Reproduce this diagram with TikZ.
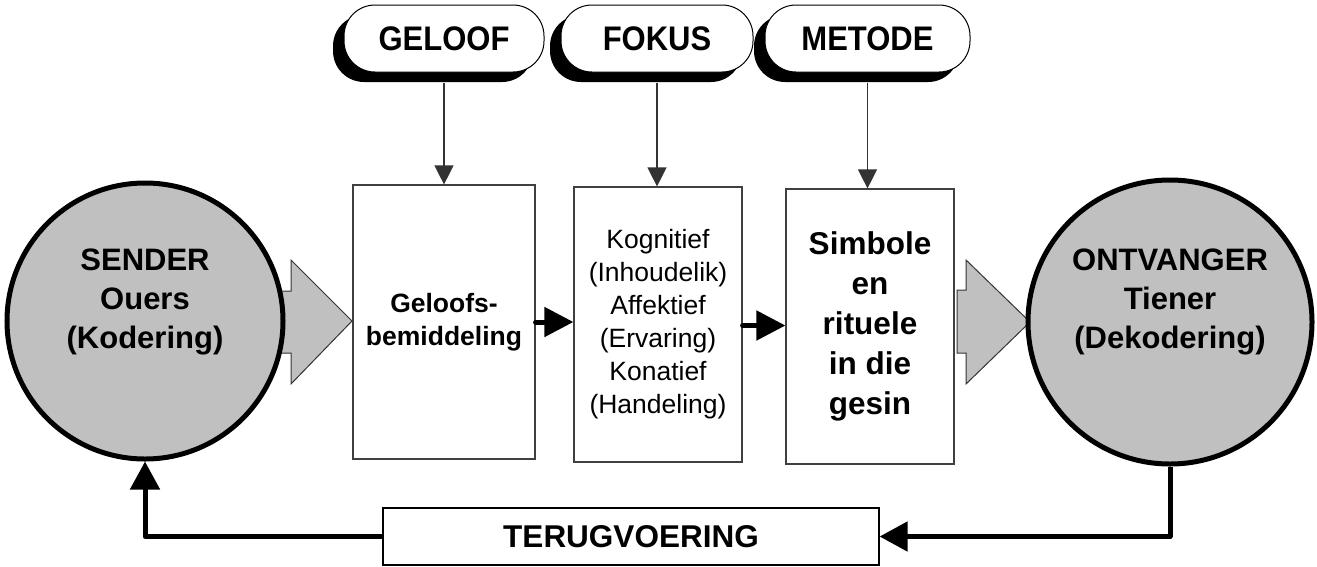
\documentclass[tikz,border=0pt]{standalone}
\usepackage{fontspec}
\setmainfont{Liberation Sans}
\usetikzlibrary{arrows.meta,shadows,calc}
\definecolor{dgray}{HTML}{C0C0C0}
\begin{document}
\begin{tikzpicture}[x=1pt,y=-1pt,
  tagbox/.style={draw=black, line width=1pt, fill=white, rounded corners=31pt,
    minimum height=67pt, inner sep=0pt,
    font=\fontsize{31}{36}\selectfont\bfseries,
    drop shadow={shadow xshift=-11pt, shadow yshift=-10pt, fill=black, opacity=1}},
  procbox/.style={draw=black!75, line width=1.2pt, fill=white, inner sep=0pt, align=center},
  circ/.style={circle, draw=black, line width=5pt, fill=dgray, inner sep=0pt},
  circtext/.style={align=center, font=\fontsize{31}{39}\selectfont\bfseries, inner sep=0pt},
  thinarrow/.style={draw=black!80, line width=1.3pt, -{Triangle[length=19pt,width=19pt]}},
  boldarrow/.style={draw=black, line width=5pt, line cap=round, -{Triangle[length=29pt,width=29pt]}},
  fbarrow/.style={draw=black, line width=5pt, line join=round, -{Triangle[length=28pt,width=29pt]}},
  blockarrow/.style={draw=black!80, line width=1pt, fill=dgray, line join=miter}
]
\useasboundingbox (0,0) rectangle (1317,566);

% gray block arrows (drawn first, circles cover their roots)
\draw[blockarrow] (270,291) -- (291,291) -- (291,260) -- (352,321) -- (291,384) -- (291,353) -- (270,353) -- cycle;
\draw[blockarrow] (957,290) -- (966,290) -- (966,260) -- (1030,322) -- (966,384) -- (966,353) -- (957,353) -- cycle;

% circles
\node[circ, minimum size=276pt] (sender) at (145,321) {};
\node[circ, minimum size=284pt] (recv) at (1170,322) {};
\node[circtext] (sendertxt) at (145,302) {SENDER\\Ouers\\(Kodering)};
\node[circtext] (recvtxt) at (1170,302) {ONTVANGER\\Tiener\\(Dekodering)};

% process boxes
\node[procbox, minimum width=182pt, minimum height=274pt,
  font=\fontsize{26.5}{33}\selectfont\bfseries] (b1) at (444,322) {Geloofs-\\bemiddeling};
\node[procbox, minimum width=168pt, minimum height=275pt,
  font=\fontsize{26.5}{33}\selectfont] (b2) at (658,324.5)
  {Kognitief\\(Inhoudelik)\\Affektief\\(Ervaring)\\Konatief\\(Handeling)};
\node[procbox, minimum width=168pt, minimum height=275pt,
  font=\fontsize{31.5}{40}\selectfont\bfseries] (b3) at (870,326.5)
  {Simbole\\en\\rituele\\in die\\gesin};

% tags
\node[tagbox, minimum width=200pt] (t1) at (444,38.5) {\scalebox{1}[1.1]{GELOOF}};
\node[tagbox, minimum width=192pt] (t2) at (657,38.5) {\scalebox{1}[1.1]{FOKUS}};
\node[tagbox, minimum width=205pt] (t3) at (867.5,38.5) {\scalebox{1}[1.1]{METODE}};

% tag arrows
\draw[thinarrow] ([yshift=-10pt]t1.south) -- (t1.south |- b1.north);
\draw[thinarrow] ([yshift=-10pt]t2.south) -- (t2.south |- b2.north);
\draw[thinarrow] ([yshift=-10pt]t3.south) -- (t3.south |- b3.north);

% arrows between boxes
\draw[boldarrow] (b1.east) -- (b1.east -| b2.west);
\draw[boldarrow] ([yshift=-1pt]b2.east) -- ([yshift=-1pt]b2.east -| b3.west);

% feedback
\node[procbox, draw=black, minimum width=496pt, minimum height=57pt,
  font=\fontsize{31.5}{36}\selectfont\bfseries] (fb) at (631,536.5) {TERUGVOERING};
\draw[fbarrow] (recv.south) |- (fb.east);
\draw[fbarrow] (fb.west) -| (sender.south);
\end{tikzpicture}
\end{document}
